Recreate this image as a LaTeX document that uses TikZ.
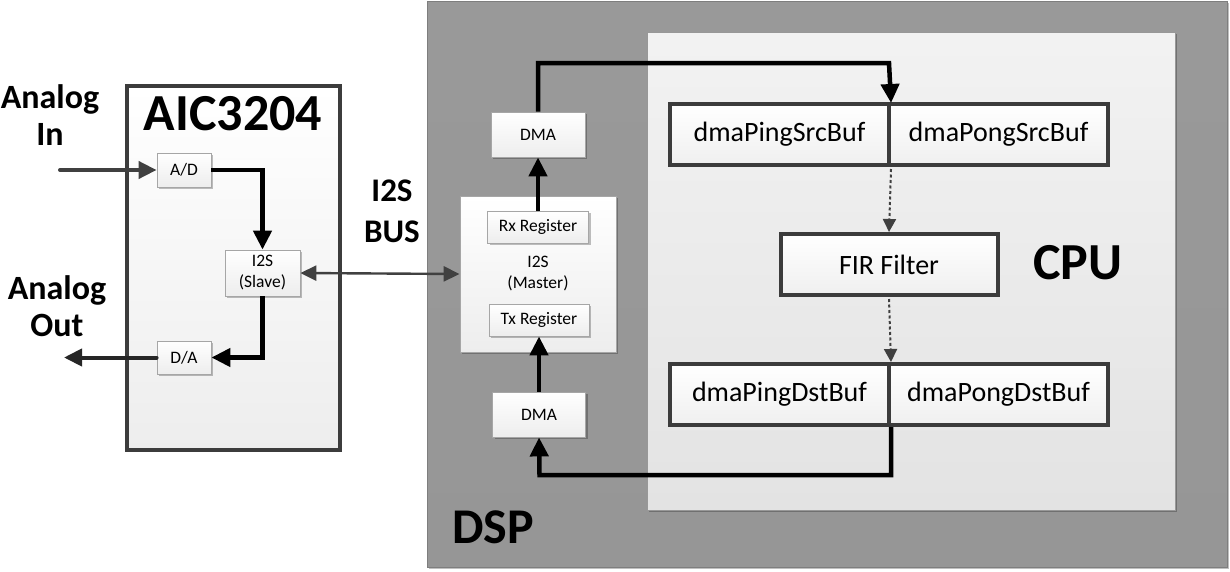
\documentclass[tikz,border=0pt]{standalone}
\usepackage{fontspec}
\setmainfont{Carlito}
\usetikzlibrary{positioning, arrows.meta, shadows}

\definecolor{dspgray}{HTML}{9E9E9E}
\definecolor{dspedge}{HTML}{7E7E7E}
\definecolor{edgedark}{HTML}{3C3C3C}
\definecolor{boxedge}{HTML}{A6A6A6}
\definecolor{flowgray}{HTML}{404040}

\tikzset{
  softshadow/.style={drop shadow={shadow xshift=2pt, shadow yshift=-2pt, opacity=0.25, fill=black}},
  smallbox/.style={rectangle, draw=boxedge, line width=0.8pt, top color=white, bottom color=gray!14,
    inner sep=0pt, align=center, font=\fontsize{17.5}{21}\selectfont, softshadow},
  bufbox/.style={rectangle, draw=edgedark, line width=4pt, top color=white, bottom color=gray!12,
    inner sep=0pt, minimum width=219pt, minimum height=61pt, font=\fontsize{28}{30}\selectfont, softshadow},
  bigtitle/.style={font=\bfseries\fontsize{52}{56}\selectfont},
  sidelabel/.style={align=center, font=\bfseries\fontsize{34}{37}\selectfont},
  dataflow/.style={line width=4.5pt, draw=black, -{Triangle[length=19pt, width=18pt]}},
  grayflow/.style={line width=4pt, draw=flowgray, line cap=round, -{Triangle[length=18pt, width=17pt]}},
  busflow/.style={line width=2.4pt, draw=flowgray, {Triangle[length=16pt, width=15pt]}-{Triangle[length=16pt, width=15pt]}},
  dotflow/.style={line width=2pt, draw=flowgray, dash pattern=on 3pt off 2.5pt, -{Triangle[length=13pt, width=13pt]}},
}

\begin{document}
\begin{tikzpicture}[x=1pt, y=-1pt]
\useasboundingbox (0,0) rectangle (1230,571);

% DSP and CPU areas
\node[rectangle, draw=dspedge, line width=1pt, top color=dspgray!105, bottom color=dspgray!95!black,
  minimum width=800pt, minimum height=566pt, softshadow] (dsp) at (827,284) {};
\node[rectangle, draw=dspedge!80, line width=0.8pt, top color=gray!10, bottom color=gray!22,
  minimum width=528pt, minimum height=478pt, softshadow] (cpu) at (911,271) {};

% AIC3204 codec
\node[rectangle, draw=edgedark, line width=4pt, top color=white, bottom color=gray!14,
  minimum width=213pt, minimum height=364pt, softshadow] (aic) at (233.5,268) {};
\node[bigtitle] (aictitle) at (233,114) {AIC3204};

\node[smallbox, minimum width=54pt, minimum height=34pt] (ad) at (184,170) {A/D};
\node[smallbox, minimum width=75pt, minimum height=46pt] (slave) at (262.5,273) {I2S\\(Slave)};
\node[smallbox, minimum width=54pt, minimum height=33pt] (da) at (184,357.5) {D/A};

% I2S master with registers and DMA
\node[smallbox, minimum width=156pt, minimum height=156pt] (master) at (538,274) {I2S\\(Master)};
\node[smallbox, minimum width=101pt, minimum height=32pt] (rxreg) at (538,227) {Rx Register};
\node[smallbox, minimum width=100pt, minimum height=32pt] (txreg) at (539,320) {Tx Register};
\node[smallbox, minimum width=94pt, minimum height=45pt] (dmarx) at (538,134.5) {DMA};
\node[smallbox, minimum width=93pt, minimum height=45pt] (dmatx) at (539,414.5) {DMA};

% ping-pong buffers and filter
\node[bufbox] (srcping) at (779.5,134.5) {dmaPingSrcBuf};
\node[bufbox] (srcpong) at (998.5,134.5) {dmaPongSrcBuf};
\node[bufbox, minimum width=217pt] (fir) at (889,264.5) {FIR Filter};
\node[bufbox] (dstping) at (779.5,394.5) {dmaPingDstBuf};
\node[bufbox] (dstpong) at (998.5,394.5) {dmaPongDstBuf};

% labels
\node[sidelabel] (ain) at (50,115) {Analog\\In};
\node[sidelabel] (aout) at (57,306) {Analog\\Out};
\node[sidelabel, font=\bfseries\fontsize{33}{41}\selectfont] (bus) at (392,211) {I2S\\BUS};
\node[bigtitle] (cputitle) at (1078,263) {CPU};
\node[bigtitle, font=\bfseries\fontsize{50}{54}\selectfont] (dsptitle) at (493,527) {DSP};

% free ends and turns
\coordinate (inend) at (60,170);
\coordinate (outend) at (64,357.5);
\coordinate (topturn) at (889,63);
\coordinate (botturn) at (539.5,475);

% connectors
\draw[grayflow] (inend) -- (ad.west);
\draw[dataflow] (ad.east) -| (slave.north);
\draw[dataflow] (slave.south) |- (da.east);
\draw[grayflow, draw=black!85] (da.west) -- (outend);
\draw[busflow] (slave.east) -- (master.west);
\draw[dataflow] (rxreg.north) -- (dmarx.south);
\draw[dataflow, shorten >=-1pt] (dmarx.north) |- (topturn) -- (srcping.north east);
\draw[dataflow] (dstping.south east) |- (botturn) -- (dmatx.south);
\draw[dataflow] (dmatx.north) -- (txreg.south);
\draw[dotflow] (srcping.south east) ++(0,2) -- (fir.north);
\draw[dotflow] (fir.south) ++(0,2) -- (dstping.north east);
\end{tikzpicture}
\end{document}
